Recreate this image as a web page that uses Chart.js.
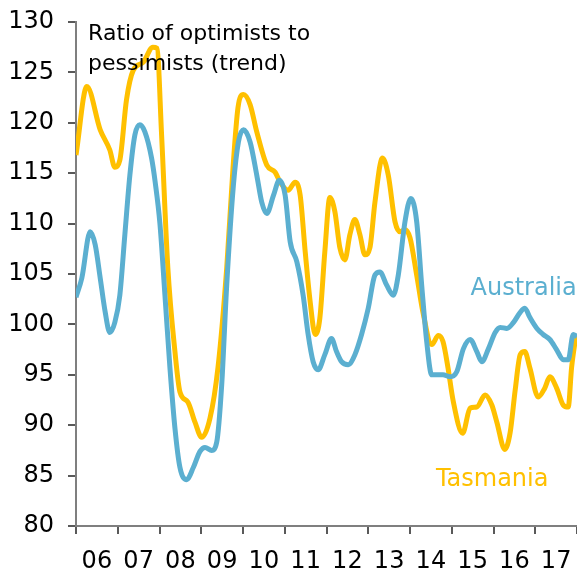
<!DOCTYPE html>
<html>
<head>
<meta charset="utf-8">
<script src="https://cdn.jsdelivr.net/npm/chart.js@4/dist/chart.umd.min.js"></script>
<style>
  html, body { margin: 0; padding: 0; background: #fff; }
  canvas { display: block; }
</style>
</head>
<body>
<canvas id="c" width="577" height="571"></canvas>
<script>
// ---- data ----
const yearLabels = ['06','07','08','09','10','11','12','13','14','15','16','17'];
const yTicks = [80, 85, 90, 95, 100, 105, 110, 115, 120, 125, 130];

const ausX = [2006.00,2006.14,2006.34,2006.46,2006.58,2006.70,2006.81,2006.93,
  2007.05,2007.17,2007.29,2007.41,2007.53,2007.65,2007.81,2007.90,
  2008.01,2008.13,2008.25,2008.37,2008.49,2008.65,2008.81,2008.97,
  2009.09,2009.25,2009.37,2009.49,2009.61,2009.77,2009.89,
  2010.01,2010.17,2010.33,2010.45,2010.57,2010.73,2010.87,
  2011.01,2011.13,2011.29,2011.44,2011.56,2011.68,2011.80,2011.96,
  2012.12,2012.24,2012.36,2012.52,2012.68,2012.84,
  2013.00,2013.16,2013.28,2013.44,2013.60,2013.72,2013.88,
  2014.02,2014.16,2014.28,2014.40,2014.52,2014.68,2014.79,2014.96,
  2015.12,2015.28,2015.44,2015.60,2015.72,2015.88,
  2016.04,2016.16,2016.32,2016.48,2016.64,2016.75,2016.87,
  2017.04,2017.19,2017.35,2017.51,2017.67,2017.79,2017.91,2018.00];
const ausValues = [102.7,104.6,109.2,107.9,104.6,101.2,99.2,100.2,
  102.9,108.9,114.8,118.8,119.8,119.1,116.5,114.0,
  110.0,102.9,95.7,89.7,85.8,84.6,85.8,87.4,
  87.8,87.5,88.3,94.0,103.9,113.8,118.1,
  119.3,118.1,114.8,112.1,111.0,112.8,114.3,
  112.8,108.2,106.2,102.9,99.0,96.3,95.5,97.0,
  98.6,97.3,96.3,96.0,97.0,99.0,
  101.6,104.9,105.2,103.9,102.9,104.9,110.2,
  112.5,110.2,103.9,98.3,95.0,95.0,95.0,94.8,
  95.3,97.6,98.5,97.3,96.3,97.6,
  99.2,99.7,99.6,100.2,101.2,101.6,100.7,
  99.6,99.0,98.5,97.5,96.5,96.5,99.0,98.8];

const tasX = [2006.00,2006.26,2006.58,2006.81,2006.93,
  2007.05,2007.21,2007.37,2007.61,2007.84,2007.94,
  2008.05,2008.20,2008.37,2008.49,2008.68,2008.85,
  2009.01,2009.21,2009.40,2009.61,2009.76,2009.88,
  2010.01,2010.17,2010.33,2010.57,2010.77,2010.89,
  2011.08,2011.25,2011.37,2011.49,2011.61,2011.73,2011.84,2011.96,
  2012.08,2012.20,2012.32,2012.44,2012.56,2012.68,2012.80,2012.92,
  2013.04,2013.16,2013.34,2013.48,2013.64,2013.76,2013.88,
  2014.00,2014.16,2014.31,2014.52,2014.68,2014.79,2014.91,
  2015.03,2015.26,2015.44,2015.60,2015.80,2015.96,
  2016.08,2016.27,2016.40,2016.52,2016.64,2016.75,2016.87,
  2017.07,2017.23,2017.35,2017.51,2017.67,2017.79,2017.87,2017.98];
const tasValues = [116.8,123.6,119.3,117.3,115.6,
  116.3,122.3,125.2,126.0,127.5,127.4,
  118.8,105.6,97.3,93.3,92.3,90.3,
  88.8,90.7,95.7,105.6,115.5,121.5,
  122.8,121.8,119.1,115.8,115.1,114.1,
  113.3,114.1,112.8,107.2,102.2,99.0,100.6,107.2,
  112.6,111.2,107.6,106.4,108.9,110.4,108.9,106.9,
  107.6,112.1,116.5,114.8,110.2,109.2,109.4,
  108.6,104.9,101.2,98.0,98.9,98.3,95.7,
  92.5,89.2,91.7,91.8,93.0,92.0,
  90.3,87.6,89.3,93.5,97.0,97.3,95.7,
  92.8,93.7,94.8,93.7,92.0,91.8,95.7,99.0];

const seriesNames = ['Australia', 'Tasmania'];
const noteLines = ['Ratio of optimists to', 'pessimists (trend)'];

// ---- styling ----
const BLUE = '#5BAFD0';
const GOLD = '#FFC000';
const FONT = "'DejaVu Sans', sans-serif";

const toXY = (xs, vs) => xs.map((x, i) => ({ x: x, y: vs[i] }));

const textPlugin = {
  id: 'texts',
  afterDraw(chart, args, opts) {
    const ctx = chart.ctx;
    const xs = chart.scales.x, ys = chart.scales.y;
    ctx.save();
    ctx.textBaseline = 'alphabetic';
    ctx.textAlign = 'left';
    ctx.fillStyle = '#000';
    ctx.font = '22px ' + FONT;
    noteLines.forEach((t, i) => {
      ctx.fillText(t, xs.getPixelForValue(opts.noteX), ys.getPixelForValue(opts.noteY[i]));
    });
    ctx.font = '24px ' + FONT;
    seriesNames.forEach((t, i) => {
      ctx.fillStyle = opts.labelColors[i];
      ctx.fillText(t, xs.getPixelForValue(opts.labelX[i]), ys.getPixelForValue(opts.labelY[i]));
    });
    ctx.restore();
  }
};

const noPadH = s => { s.paddingLeft = 0; s.paddingRight = 0; };

new Chart(document.getElementById('c'), {
  type: 'line',
  data: {
    datasets: [
      { label: seriesNames[0], data: toXY(ausX, ausValues), borderColor: BLUE,
        borderWidth: 5, pointRadius: 0, cubicInterpolationMode: 'monotone', fill: false },
      { label: seriesNames[1], data: toXY(tasX, tasValues), borderColor: GOLD,
        borderWidth: 5, pointRadius: 0, cubicInterpolationMode: 'monotone', fill: false }
    ]
  },
  options: {
    responsive: false,
    devicePixelRatio: 1,
    animation: false,
    events: [],
    layout: { padding: { top: 22, right: 0, left: 0, bottom: 0 } },
    plugins: {
      legend: { display: false },
      tooltip: { enabled: false },
      texts: {
        noteX: 2006.29, noteY: [128.2, 125.24],
        labelX: [2015.45, 2014.62], labelY: [102.9, 84.0],
        labelColors: [BLUE, GOLD]
      }
    },
    scales: {
      x: {
        type: 'linear', position: 'bottom', min: 2006, max: 2018, weight: 0,
        ticks: { display: false, stepSize: 1 },
        grid: { drawOnChartArea: false, drawTicks: true, tickLength: 8, color: '#595959', lineWidth: 2 },
        border: { display: true, color: '#7f7f7f', width: 2 },
        afterFit: s => { s.height = 9; noPadH(s); }
      },
      x2: {
        type: 'linear', position: 'bottom', min: 2006, max: 2018, weight: 1,
        grid: { display: false, drawTicks: false },
        border: { display: false },
        afterBuildTicks: s => { s.ticks = yearLabels.map((l, i) => ({ value: 2006.5 + i })); },
        ticks: {
          autoSkip: false, maxRotation: 0, padding: 12, color: '#000',
          font: { family: FONT, size: 24 },
          callback: (v, i) => yearLabels[i]
        },
        afterFit: s => { s.height = 36; noPadH(s); }
      },
      y: {
        type: 'linear', position: 'left', min: 80, max: 130,
        afterBuildTicks: s => { s.ticks = yTicks.map(v => ({ value: v })); },
        ticks: { padding: 14, color: '#000', font: { family: FONT, size: 24 } },
        grid: { drawOnChartArea: false, drawTicks: true, tickLength: 8, color: '#595959', lineWidth: 2 },
        border: { display: true, color: '#7f7f7f', width: 2 },
        afterFit: s => { s.width = 76; s.paddingTop = 0; s.paddingBottom = 0; }
      }
    }
  },
  plugins: [textPlugin]
});
</script>
</body>
</html>
